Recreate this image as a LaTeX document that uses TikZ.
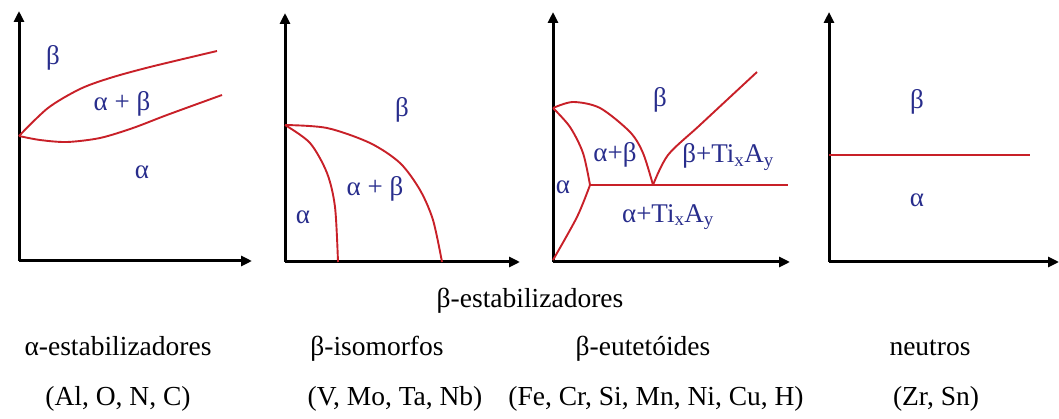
\documentclass[tikz,border=0pt]{standalone}
\usepackage{fontspec}
\setmainfont{Liberation Serif}
\usetikzlibrary{arrows.meta}
\definecolor{phred}{RGB}{200,32,40}
\definecolor{phblue}{RGB}{40,45,140}
\begin{document}
\begin{tikzpicture}[x=1pt,y=-1pt,
  axis/.style={line width=3pt,-{Triangle[length=11pt,width=10pt]}},
  phase/.style={phred,line width=1.9pt},
  lab/.style={phblue,font=\fontsize{27}{30}\selectfont,inner sep=0pt},
  captext/.style={black,font=\fontsize{27.5}{30}\selectfont,inner sep=0pt,anchor=base}]
\useasboundingbox (0,0) rectangle (1059,419);
% ---------- panel 1 ----------
\coordinate (o1) at (19,261);
\coordinate (y1) at (19,11);
\coordinate (x1) at (252,261);
\draw[axis] (o1) -- (y1);
\draw[axis] (o1) -- (x1);
\draw[phase] plot[smooth] coordinates {(19,136) (48,108) (80,89) (110,78) (150,67) (217,51)};
\draw[phase] plot[smooth] coordinates {(19,136) (40,140) (67,142) (100,138) (133,128) (167,115) (222,95)};
\node[lab] (p1b) at (53,58) {β};
\node[lab] (p1ab) at (122,104) {α + β};
\node[lab] (p1a) at (142,172) {α};
% ---------- panel 2 ----------
\coordinate (o2) at (285,262);
\coordinate (y2) at (285,13);
\coordinate (x2) at (520,262);
\draw[axis] (o2) -- (y2);
\draw[axis] (o2) -- (x2);
\draw[phase] plot[smooth] coordinates {(285,125) (327,128) (370,143) (400,163) (420,190) (433,220) (442,262)};
\draw[phase] plot[smooth] coordinates {(285,125) (310,143) (327,173) (335,207) (338,262)};
\node[lab] (p2b) at (402,110) {β};
\node[lab] (p2ab) at (375,189) {α + β};
\node[lab] (p2a) at (303,217) {α};
% ---------- panel 3 ----------
\coordinate (o3) at (553,262);
\coordinate (y3) at (553,12);
\coordinate (x3) at (790,262);
\draw[axis] (o3) -- (y3);
\draw[axis] (o3) -- (x3);
\coordinate (tp) at (590,185);
\coordinate (eu) at (653,185);
\coordinate (he) at (788,185);
\draw[phase] plot[smooth] coordinates {(553,108) (573,102) (600,108) (630,132) (643,153) (653,185)};
\draw[phase] plot[smooth] coordinates {(553,108) (570,127) (583,153) (590,185)};
\draw[phase] plot[smooth] coordinates {(590,185) (577,217) (553,260)};
\draw[phase] (tp) -- (he);
\draw[phase] plot[smooth] coordinates {(653,185) (668,155) (700,125) (757,72)};
\node[lab] (p3b) at (660,100) {β};
\node[lab] (p3ab) at (615,155) {α+β};
\node[lab] (p3bt) at (728,157) {β+Ti\textsubscript{x}A\textsubscript{y}};
\node[lab] (p3a) at (563,187) {α};
\node[lab] (p3at) at (668,217) {α+Ti\textsubscript{x}A\textsubscript{y}};
% ---------- panel 4 ----------
\coordinate (o4) at (829,262);
\coordinate (y4) at (829,12);
\coordinate (x4) at (1059,262);
\draw[axis] (o4) -- (y4);
\draw[axis] (o4) -- (x4);
\coordinate (n1) at (829,155);
\coordinate (n2) at (1030,155);
\draw[phase] (n1) -- (n2);
\node[lab] (p4b) at (917,102) {β};
\node[lab] (p4a) at (917,200) {α};
% ---------- captions ----------
\node[captext] (cb) at (530,308) {β-estabilizadores};
\node[captext] (c1) at (118,355) {α-estabilizadores};
\node[captext] (c2) at (377,355) {β-isomorfos};
\node[captext] (c3) at (643,355) {β-eutetóides};
\node[captext] (c4) at (930,355) {neutros};
\node[captext] (d1) at (118,405) {(Al, O, N, C)};
\node[captext] (d2) at (395,405) {(V, Mo, Ta, Nb)};
\node[captext] (d3) at (656,405) {(Fe, Cr, Si, Mn, Ni, Cu, H)};
\node[captext] (d4) at (936,405) {(Zr, Sn)};
\end{tikzpicture}
\end{document}
